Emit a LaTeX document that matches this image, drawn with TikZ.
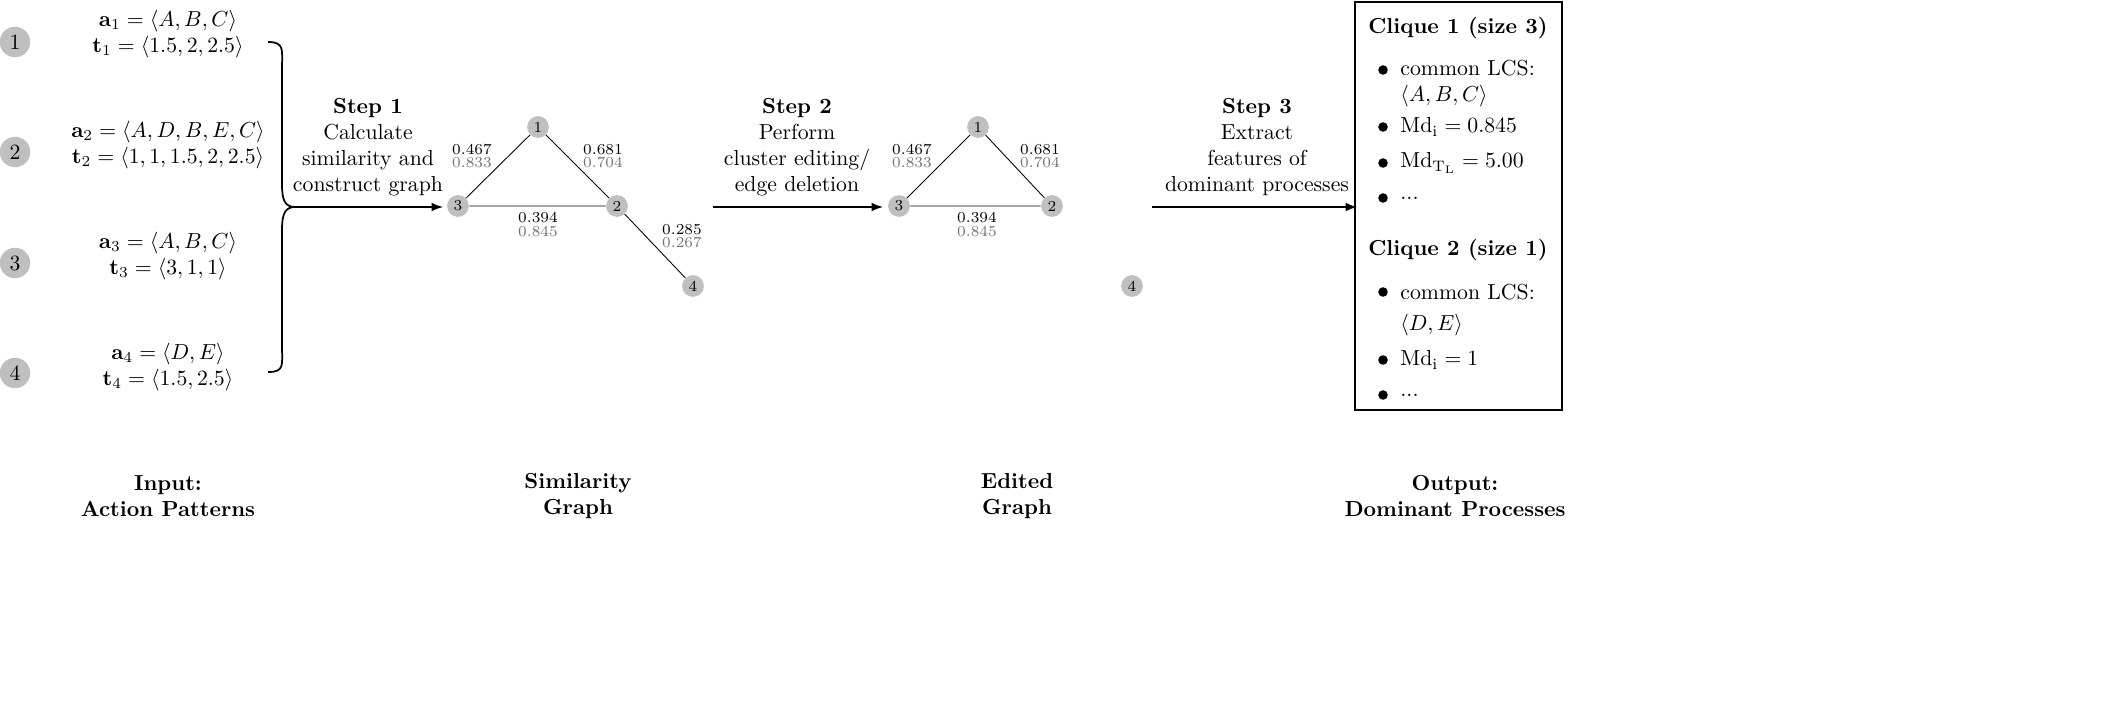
\documentclass[tikz,border=0pt]{standalone}
\usepackage{amsmath,amssymb}
\begin{document}
\begin{tikzpicture}[x=0.46pt,y=-0.46pt,
  bignum/.style={circle,fill=black!25,minimum size=14pt,inner sep=0pt},
  gnode/.style={circle,fill=black!25,minimum size=10pt,inner sep=0pt,font=\scriptsize},
  wl/.style={font=\scriptsize,inner sep=0pt,align=center},
  gl/.style={font=\scriptsize,text=black!55,inner sep=0pt},
  stp/.style={align=center,inner sep=0pt},
  arr/.style={-latex,thick},
  edg/.style={thin}]
\path[use as bounding box,fill=white] (0,0) rectangle (2125,706);
% input
\foreach \i/\y in {1/42,2/152,3/263,4/373}{\node[bignum] (n\i) at (15,\y) {\i};}
\node[align=center] (p1) at (168,34) {$\mathbf{a}_1=\langle A,B,C\rangle$\\$\mathbf{t}_1=\langle 1.5,2,2.5\rangle$};
\node[align=center] (p2) at (168,145) {$\mathbf{a}_2=\langle A,D,B,E,C\rangle$\\$\mathbf{t}_2=\langle 1,1,1.5,2,2.5\rangle$};
\node[align=center] (p3) at (168,256) {$\mathbf{a}_3=\langle A,B,C\rangle$\\$\mathbf{t}_3=\langle 3,1,1\rangle$};
\node[align=center] (p4) at (168,367) {$\mathbf{a}_4=\langle D,E\rangle$\\$\mathbf{t}_4=\langle 1.5,2.5\rangle$};
% brace
\coordinate (tip) at (295,207);
\draw[thick] (268,42) .. controls (285,42) and (282,50) .. (282,70) -- (282,185) .. controls (282,200) and (285,207) .. (tip)
  .. controls (285,207) and (282,214) .. (282,230) -- (282,345) .. controls (282,365) and (285,372) .. (268,372);
% step 1
\node[stp] (s1) at (368,147) {\textbf{Step 1}\\Calculate\\similarity and\\construct graph};
\coordinate (a1e) at (443,207);
\draw[arr] (tip) -- (a1e);
% graph 1
\node[gnode] (g1) at (538,127) {1};
\node[gnode] (g3) at (458,206) {3};
\node[gnode] (g2) at (617,206) {2};
\node[gnode] (g4) at (693,286) {4};
\draw[edg] (g1)--(g3) (g1)--(g2) (g3)--(g2) (g2)--(g4);
\node[wl] (w13) at (472,150) {0.467}; \node[gl] (v13) at (472,163) {0.833};
\node[wl] (w12) at (603,150) {0.681}; \node[gl] (v12) at (603,163) {0.704};
\node[wl] (w32) at (538,218) {0.394}; \node[gl] (v32) at (538,232) {0.845};
\node[wl] (w24) at (682,230) {0.285}; \node[gl] (v24) at (682,243) {0.267};
% step 2
\node[stp] (s2) at (797,147) {\textbf{Step 2}\\Perform\\cluster editing/\\edge deletion};
\coordinate (a2s) at (713,207); \coordinate (a2e) at (883,207);
\draw[arr] (a2s) -- (a2e);
% graph 2
\node[gnode] (h1) at (978,127) {1};
\node[gnode] (h3) at (899,206) {3};
\node[gnode] (h2) at (1052,206) {2};
\node[gnode] (h4) at (1132,286) {4};
\draw[edg] (h1)--(h3) (h1)--(h2) (h3)--(h2);
\node[wl] (x13) at (912,150) {0.467}; \node[gl] (y13) at (912,163) {0.833};
\node[wl] (x12) at (1040,150) {0.681}; \node[gl] (y12) at (1040,163) {0.704};
\node[wl] (x32) at (977,218) {0.394}; \node[gl] (y32) at (977,232) {0.845};
% step 3
\node[stp] (s3) at (1257,147) {\textbf{Step 3}\\Extract\\features of\\dominant processes};
\coordinate (a3s) at (1152,207); \coordinate (a3e) at (1357,207);
\draw[arr] (a3s) -- (a3e);
% output box
\draw[thick] (1355,2) rectangle (1562,410);
\node (c1) at (1458,28) {\textbf{Clique 1 (size 3)}};
\foreach \y in {70,127,163,198,292,360,395}{\fill (1383,\y) circle (2.2pt);}
\node[anchor=west,inner sep=0pt] (t1) at (1400,68) {common LCS:};
\node[anchor=west,inner sep=0pt] (t2) at (1400,96) {$\langle A,B,C\rangle$};
\node[anchor=west,inner sep=0pt] (t3) at (1400,127) {$\mathrm{Md}_\mathrm{i}=0.845$};
\node[anchor=west,inner sep=0pt] (t4) at (1400,163) {$\mathrm{Md}_{\mathrm{T_L}}=5.00$};
\node[anchor=west,inner sep=0pt] (t5) at (1400,198) {...};
\node (c2) at (1458,250) {\textbf{Clique 2 (size 1)}};
\node[anchor=west,inner sep=0pt] (u1) at (1400,292) {common LCS:};
\node[anchor=west,inner sep=0pt] (u2) at (1400,325) {$\langle D,E\rangle$};
\node[anchor=west,inner sep=0pt] (u3) at (1400,360) {$\mathrm{Md}_\mathrm{i}=1$};
\node[anchor=west,inner sep=0pt] (u4) at (1400,395) {...};
% bottom labels
\node[stp] (b1) at (168,496) {\textbf{Input:}\\\textbf{Action Patterns}};
\node[stp] (b2) at (578,496) {\textbf{Similarity}\\\textbf{Graph}};
\node[stp] (b3) at (1017,496) {\textbf{Edited}\\\textbf{Graph}};
\node[stp] (b4) at (1455,496) {\textbf{Output:}\\\textbf{Dominant Processes}};
\end{tikzpicture}
\end{document}
